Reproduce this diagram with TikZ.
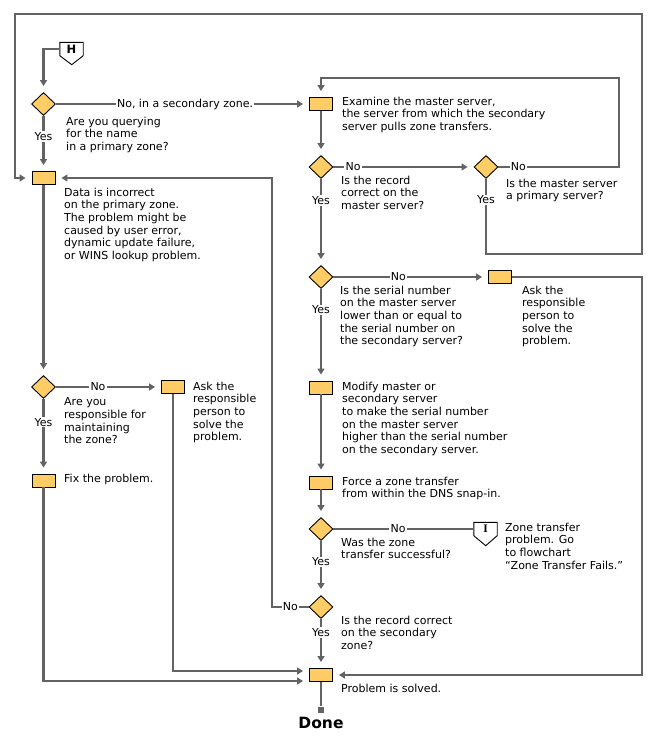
\documentclass[tikz,border=0pt]{standalone}
\usepackage{fontspec}
\setmainfont{DejaVu Sans}
\newfontfamily\connfont{Liberation Serif}
\usetikzlibrary{shapes.geometric,arrows.meta}
\definecolor{boxfill}{HTML}{FFCC66}
\definecolor{linegray}{HTML}{636363}

\tikzset{
  box/.style={rectangle, draw=black, fill=boxfill, line width=0.9pt, minimum width=23pt, minimum height=13pt, inner sep=0pt},
  decision/.style={diamond, draw=black, fill=boxfill, line width=0.9pt, minimum width=24pt, minimum height=23pt, inner sep=0pt},
  conn/.style={rectangle, minimum width=23pt, minimum height=13pt, inner sep=0pt, font=\fontsize{11.5}{12}\selectfont},
  txt/.style={anchor=north west, inner sep=0pt, align=left, font=\fontsize{11}{12.7}\selectfont},
  lab/.style={fill=white, inner sep=1.2pt, font=\fontsize{11}{12.7}\selectfont},
  flow/.style={draw=linegray, line width=2.2pt},
  go/.style={flow, -{Triangle[length=6pt,width=7pt]}, shorten >=6pt}
}

\begin{document}
\begin{tikzpicture}[x=1pt,y=-1pt]
	\useasboundingbox (0,0) rectangle (662,744);

	% left column
	\node[conn] (hc) at (71.5,49) {\bfseries H};
	\draw[line width=0.9pt] (hc.north west) -- (hc.north east) -- (hc.south east) -- ++(-11.5,9) -- (hc.south west) -- cycle;
	\node[decision] (q1) at (43.5,104) {};
	\node[box] (b1) at (43.5,178) {};
	\node[decision] (q2) at (43.5,387) {};
	\node[box] (b2) at (43.5,480.5) {};
	\node[box] (b3) at (173,387) {};

	% right column
	\node[box] (m1) at (321,104) {};
	\node[decision] (q3) at (321,167) {};
	\node[decision] (q4) at (486,167) {};
	\node[decision] (q5) at (321,277) {};
	\node[box] (b4) at (500,277) {};
	\node[box] (b5) at (321,387.5) {};
	\node[box] (b6) at (321,482.5) {};
	\node[decision] (q6) at (321,529) {};
	\node[conn] (ic) at (485.5,529) {\connfont\bfseries I};
	\draw[line width=0.9pt] (ic.north west) -- (ic.north east) -- (ic.south east) -- ++(-11.5,10) -- (ic.south west) -- cycle;
	\node[decision] (q7) at (321,607) {};
	\node[box] (b7) at (321,675) {};
	\node[fill=linegray, minimum size=6pt, inner sep=0pt] (endsq) at (321,709.5) {};
	\node[font=\bfseries\fontsize{15.5}{18}\selectfont] (done) at (321,723) {Done};

	% texts
	\node[txt] (tq1) at (66,116.5) {Are you querying\\for the name\\in a primary zone?};
	\node[txt] (tb1) at (64,187.5) {Data is incorrect\\on the primary zone.\\The problem might be\\caused by user error,\\dynamic update failure,\\or WINS lookup problem.};
	\node[txt] (tq2) at (64,397.5) {Are you\\responsible for\\maintaining\\the zone?};
	\node[txt] (tb2) at (64,473.5) {Fix the problem.};
	\node[txt] (tb3) at (193,381.5) {Ask the\\responsible\\person to\\solve the\\problem.};
	\node[txt] (tm1) at (342,96.5) {Examine the master server,\\the server from which the secondary\\server pulls zone transfers.};
	\node[txt] (tq3) at (341,175.5) {Is the record\\correct on the\\master server?};
	\node[txt] (tq4) at (506,178.5) {Is the master server\\a primary server?};
	\node[txt] (tq5) at (340,285.5) {Is the serial number\\on the master server\\lower than or equal to\\the serial number on\\the secondary server?};
	\node[txt] (tb4) at (522,285.5) {Ask the\\responsible\\person to\\solve the\\problem.};
	\node[txt] (tb5) at (342,381.5) {Modify master or\\secondary server\\to make the serial number\\on the master server\\higher than the serial number\\on the secondary server.};
	\node[txt] (tb6) at (342,476.5) {Force a zone transfer\\from within the DNS snap-in.};
	\node[txt] (tq6) at (341,537.5) {Was the zone\\transfer successful?};
	\node[txt] (tic) at (505,522.5) {Zone transfer\\problem. Go\\to flowchart\\“Zone Transfer Fails.”};
	\node[txt] (tq7) at (341,615.5) {Is the record correct\\on the secondary\\zone?};
	\node[txt] (tb7) at (341,683.5) {Problem is solved.};

	% connectors
	\draw[go] (hc.west) -| (q1.north);
	\draw[go] (q1.east) -- node[lab, pos=0.51] {No, in a secondary zone.} (m1.west);
	\draw[go] (q1.south) -- node[lab, pos=0.37] {Yes} (b1.north);
	\draw[go] (b1.south) -- (q2.north);
	\draw[go] (q2.east) -- node[lab, pos=0.4] {No} (b3.west);
	\draw[go] (q2.south) -- node[lab, pos=0.31] {Yes} (b2.north);
	\draw[go] (b2.south) |- ([yshift=-6pt]b7.west);
	\draw[go] (b3.south) |- ([yshift=4pt]b7.west);

	\draw[go] (m1.south) -- (q3.north);
	\draw[go] (q3.east) -- node[lab, pos=0.14] {No} (q4.west);
	\draw[go] (q4.east) -- node[lab, pos=0.165] {No} (619,167) |- (321,78) -- (m1.north);
	\draw[go] (q4.south) -- node[lab, pos=0.28] {Yes} (486,254) -| (642,14) -| (15,178) -- (b1.west);
	\draw[go] (q3.south) -- node[lab, pos=0.25] {Yes} (q5.north);
	\draw[go] (q5.east) -- node[lab, pos=0.42] {No} (b4.west);
	\draw[go] (b4.east) -| (642,675) -- (b7.east);
	\draw[go] (q5.south) -- node[lab, pos=0.23] {Yes} (b5.north);
	\draw[go] (b5.south) -- (b6.north);
	\draw[go] (b6.south) -- (q6.north);
	\draw[flow] (q6.east) -- node[lab, pos=0.46] {No} (ic.west);
	\draw[go] (q6.south) -- node[lab, pos=0.39] {Yes} (q7.north);
	\draw[go] (q7.west) -- node[lab] {No} (272,607) |- (b1.east);
	\draw[go] (q7.south) -- node[lab, pos=0.27] {Yes} (b7.north);
	\draw[flow] (b7.south) -- (endsq.north);
\end{tikzpicture}
\end{document}
